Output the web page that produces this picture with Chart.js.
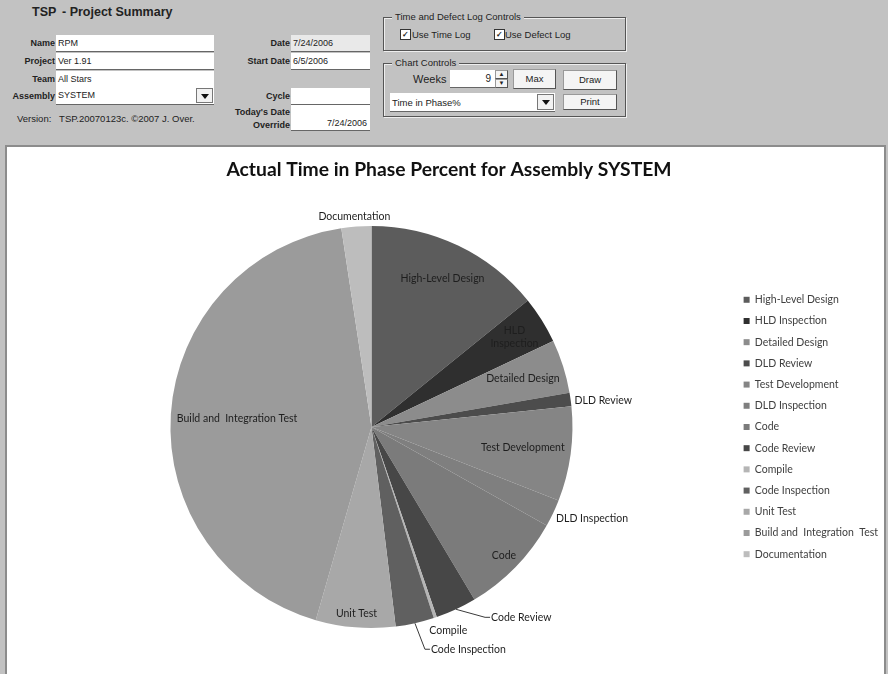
<!DOCTYPE html>
<html>
<head>
<meta charset="utf-8">
<script src="https://cdn.jsdelivr.net/npm/chart.js@4.4.1/dist/chart.umd.min.js"></script>
<style>
  body { margin: 0; width: 888px; height: 674px; overflow: hidden; position: relative; background: #c2c2c2; font-family: "Liberation Sans", Arial, sans-serif; color: #222; }
  .abs { position: absolute; }
  .lbl { position: absolute; font-size: 9px; font-weight: bold; text-align: right; white-space: nowrap; }
  .box { position: absolute; background: #fff; box-sizing: border-box; font-size: 9px; padding-left: 2px; border-bottom: 1px solid #666; white-space: nowrap; }
  .drop { position: absolute; top: 1px; right: 1px; bottom: 1px; width: 17px; background: #f2f2f2; border: 1px solid #777; box-sizing: border-box; }
  .drop::after { content: ""; position: absolute; left: 4px; top: 5px; border-left: 4px solid transparent; border-right: 4px solid transparent; border-top: 5px solid #111; }
  .grp { position: absolute; border: 1px solid #555; box-shadow: 1px 1px 0 #eee inset, 1px 1px 0 #eee; }
  .grp span { position: absolute; left: 8px; top: -7px; background: #c2c2c2; padding: 0 3px; font-size: 9.5px; }
  .chk { position: absolute; width: 9px; height: 9px; background: #fff; border: 1px solid #333; font-size: 8px; line-height: 9px; text-align: center; font-weight: bold; }
  .btn { position: absolute; background: #f4f4f4; border: 1px solid #999; border-right-color: #555; border-bottom-color: #555; box-sizing: border-box; font-size: 9.5px; text-align: center; }
  #panel { position: absolute; left: 5px; top: 145px; width: 877px; height: 527px; background: #fff; border: 2px solid #8c8c8c; border-bottom: none; overflow: hidden; }
  canvas { position: absolute; left: 0; top: 0; }
</style>
</head>
<body>
  <div class="abs" style="left:32px;top:5px;font-size:12.5px;font-weight:bold;">TSP</div>
  <div class="abs" style="left:62px;top:5px;font-size:12.5px;font-weight:bold;">- Project Summary</div>

  <div class="lbl" style="right:833px;top:38px;">Name</div>
  <div class="box" style="left:56px;top:35px;width:158px;height:17px;line-height:17px;">RPM</div>
  <div class="lbl" style="right:833px;top:56px;">Project</div>
  <div class="box" style="left:56px;top:53px;width:158px;height:17px;line-height:17px;">Ver 1.91</div>
  <div class="lbl" style="right:833px;top:74px;">Team</div>
  <div class="box" style="left:56px;top:71px;width:158px;height:16px;line-height:16px;border-bottom:none;">All Stars</div>
  <div class="lbl" style="right:833px;top:91px;">Assembly</div>
  <div class="box" style="left:56px;top:87px;width:158px;height:18px;line-height:17px;">SYSTEM<div class="drop"></div></div>
  <div class="abs" style="left:17px;top:113px;font-size:9.5px;">Version:&nbsp;&nbsp; TSP.20070123c. ©2007 J. Over.</div>

  <div class="lbl" style="right:598px;top:38px;">Date</div>
  <div class="box" style="left:291px;top:35px;width:79px;height:17px;line-height:17px;background:#e9e9e9;">7/24/2006</div>
  <div class="lbl" style="right:598px;top:56px;">Start Date</div>
  <div class="box" style="left:291px;top:53px;width:79px;height:17px;line-height:17px;">6/5/2006</div>
  <div class="lbl" style="right:598px;top:91px;">Cycle</div>
  <div class="box" style="left:291px;top:88px;width:79px;height:17px;"></div>
  <div class="lbl" style="right:598px;top:107px;">Today's Date</div>
  <div class="lbl" style="right:598px;top:120px;">Override</div>
  <div class="box" style="left:291px;top:105px;width:79px;height:26px;line-height:36px;text-align:right;padding-right:3px;">7/24/2006</div>

  <div class="grp" style="left:383px;top:17px;width:241px;height:32px;"><span>Time and Defect Log Controls</span></div>
  <div class="chk" style="left:400px;top:29px;">&#10003;</div>
  <div class="abs" style="left:412px;top:29px;font-size:9.5px;">Use Time Log</div>
  <div class="chk" style="left:494px;top:29px;">&#10003;</div>
  <div class="abs" style="left:505px;top:29px;font-size:9.5px;">Use Defect Log</div>

  <div class="grp" style="left:383px;top:63px;width:241px;height:52px;"><span>Chart Controls</span></div>
  <div class="abs" style="left:413px;top:73px;font-size:11px;">Weeks</div>
  <div class="box" style="left:450px;top:70px;width:45px;height:18px;line-height:18px;text-align:right;padding-right:4px;font-size:10px;">9</div>
  <div class="btn" style="left:495px;top:70px;width:13px;height:9px;font-size:6px;line-height:7px;">&#9650;</div>
  <div class="btn" style="left:495px;top:79px;width:13px;height:9px;font-size:6px;line-height:7px;">&#9660;</div>
  <div class="btn" style="left:513px;top:69px;width:43px;height:20px;line-height:18px;">Max</div>
  <div class="btn" style="left:563px;top:70px;width:54px;height:20px;line-height:18px;">Draw</div>
  <div class="box" style="left:390px;top:93px;width:165px;height:19px;line-height:19px;font-size:9.5px;">Time in Phase%<div class="drop"></div></div>
  <div class="btn" style="left:563px;top:94px;width:54px;height:16px;line-height:14px;">Print</div>

  <div id="panel"><canvas id="phaseChart" width="881" height="527"></canvas></div>

<script>
const phases = ['High-Level Design', 'HLD Inspection', 'Detailed Design', 'DLD Review', 'Test Development',
  'DLD Inspection', 'Code', 'Code Review', 'Compile', 'Code Inspection', 'Unit Test',
  'Build and  Integration  Test', 'Documentation'];
const timePercent = [14.2, 3.8, 4.3, 1.1, 7.6, 2.2, 8.3, 3.3, 0.25, 3.1, 6.4, 43.2, 2.4];
const sliceColors = ['#5c5c5c', '#2f2f2f', '#8c8c8c', '#4c4c4c', '#858585', '#7f7f7f', '#7b7b7b',
  '#474747', '#b5b5b5', '#606060', '#a8a8a8', '#9b9b9b', '#bdbdbd'];

// where each slice's label goes: fraction of radius along the mid angle, plus a nudge
const labelSpots = [
  { f: 0.82 },
  { f: 0.84, text: ['HLD', 'Inspection'] },
  { f: 0.79 },
  { f: 1.0, dx: 4, dy: 1, align: 'left' },
  { f: 0.76 },
  { f: 1.0, dx: 3, dy: 5, align: 'left' },
  { f: 0.92 },
  { f: 1.0, dx: 35, dy: 8, align: 'left', leader: true },
  { f: 1.0, dx: 13, dy: 13 },
  { f: 1.0, dx: 16, dy: 26, align: 'left', leader: true },
  { f: 0.93 },
  { f: 0.67, text: ['Build and  Integration Test'] },
  { f: 1.0, dx: -2, dy: -10 }
];

const sliceLabels = {
  id: 'sliceLabels',
  afterDatasetsDraw(chart) {
    const c = chart.ctx;
    const arcs = chart.getDatasetMeta(0).data;
    c.save();
    c.font = '10.5px Lato';
    c.fillStyle = '#1e1e1e';
    c.strokeStyle = '#3a3a3a';
    c.lineWidth = 1;
    c.textBaseline = 'middle';
    arcs.forEach((arc, i) => {
      const spot = labelSpots[i];
      const p = arc.getProps(['x', 'y', 'startAngle', 'endAngle', 'outerRadius'], true);
      const mid = (p.startAngle + p.endAngle) / 2;
      const px = p.x + Math.cos(mid) * p.outerRadius * spot.f + (spot.dx || 0);
      const py = p.y + Math.sin(mid) * p.outerRadius * spot.f + (spot.dy || 0);
      if (spot.leader) {
        const ex = p.x + Math.cos(mid) * p.outerRadius;
        const ey = p.y + Math.sin(mid) * p.outerRadius;
        c.beginPath();
        c.moveTo(ex, ey);
        c.lineTo(px - 6, py);
        c.lineTo(px - 1, py);
        c.stroke();
      }
      c.textAlign = spot.align || 'center';
      const lines = spot.text || [phases[i]];
      lines.forEach((t, k) => c.fillText(t, px, py + (k - (lines.length - 1) / 2) * 13));
    });
    c.restore();
  }
};

new Chart(document.getElementById('phaseChart'), {
  type: 'pie',
  data: {
    labels: phases,
    datasets: [{
      data: timePercent,
      backgroundColor: sliceColors,
      borderWidth: 0
    }]
  },
  options: {
    responsive: false,
    animation: false,
    layout: { padding: { left: 3, right: 0, top: 0, bottom: 46 } },
    plugins: {
      title: {
        display: true,
        text: 'Actual Time in Phase Percent for Assembly SYSTEM',
        color: '#111',
        font: { family: 'Lato', size: 19.3, weight: 'bold' },
        padding: { top: 11, bottom: 44.8 }
      },
      legend: {
        position: 'right',
        fullSize: false,
        labels: {
          boxWidth: 6,
          boxHeight: 6,
          padding: 10.7,
          color: '#404040',
          font: { family: 'Lato', size: 10.5 }
        }
      },
      tooltip: { enabled: false }
    }
  },
  plugins: [sliceLabels]
});
</script>
</body>
</html>
